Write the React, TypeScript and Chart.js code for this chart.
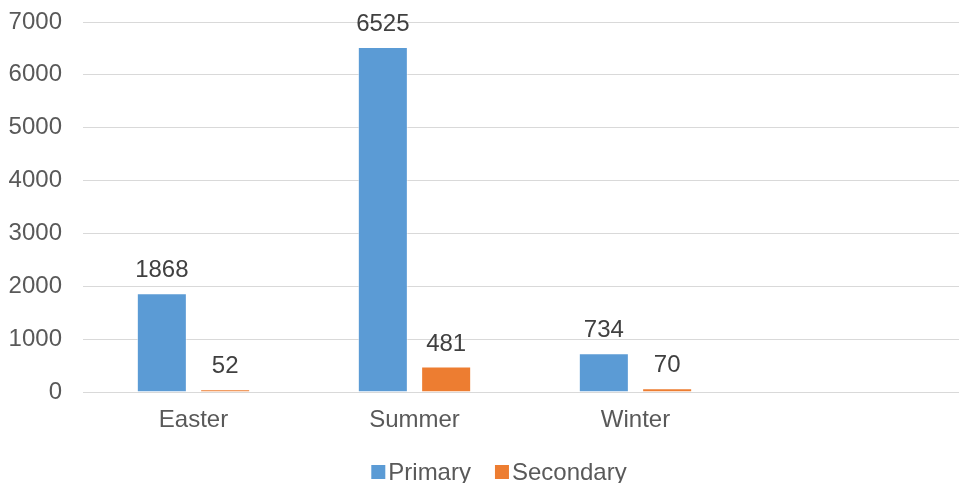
import React, { useEffect, useRef } from "react";
import { Chart, registerables } from "chart.js";

Chart.register(...registerables);

const categories = ["Easter", "Summer", "Winter", ""];
const primaryValues = [1868, 6525, 734];
const secondaryValues = [52, 481, 70];
const seriesNames = ["Primary", "Secondary"];
const yMax = 7000;
const yStep = 1000;

const FONT = "'Liberation Sans', Arial, sans-serif";
const BLUE = "#5B9BD5";
const ORANGE = "#ED7D31";

const dataLabelPlugin = {
  id: "dataLabels",
  afterDatasetsDraw(chart: any) {
    const ctx = chart.ctx;
    ctx.save();
    ctx.font = `24px ${FONT}`;
    ctx.fillStyle = "#404040";
    ctx.textAlign = "center";
    ctx.textBaseline = "alphabetic";
    chart.data.datasets.forEach((ds: any, i: number) => {
      const meta = chart.getDatasetMeta(i);
      meta.data.forEach((bar: any, j: number) => {
        const v = ds.data[j];
        if (v == null) return;
        ctx.fillText(String(v), bar.x, bar.y - 16);
      });
    });
    ctx.restore();
  },
};

const legendPlugin = {
  id: "customLegend",
  afterDraw(chart: any) {
    const ctx = chart.ctx;
    ctx.save();
    ctx.font = `24px ${FONT}`;
    ctx.textBaseline = "alphabetic";
    ctx.textAlign = "left";
    const box = 14;
    const gapBoxText = 3;
    const gapItems = 24;
    const widths = chart.data.datasets.map(
      (ds: any) => box + gapBoxText + ctx.measureText(ds.label).width
    );
    const total = widths.reduce((a: number, b: number) => a + b, 0) + gapItems * (widths.length - 1);
    let x = (chart.chartArea.left + chart.chartArea.right) / 2 - total / 2 - 26;
    const baseline = 480;
    chart.data.datasets.forEach((ds: any, i: number) => {
      ctx.fillStyle = ds.backgroundColor;
      ctx.fillRect(x, 465, box, box);
      ctx.fillStyle = "#595959";
      ctx.fillText(ds.label, x + box + gapBoxText, baseline);
      x += widths[i] + gapItems;
    });
    ctx.restore();
  },
};

export default function App() {
  const ref = useRef<HTMLCanvasElement | null>(null);

  useEffect(() => {
    document.body.style.margin = "0";
    document.body.style.overflow = "hidden";
    const canvas = ref.current!;
    const chart = new Chart(canvas, {
      type: "bar",
      data: {
        labels: categories,
        datasets: [
          {
            label: seriesNames[0],
            data: primaryValues,
            backgroundColor: BLUE,
            borderColor: "rgba(255,255,255,0.5)",
            borderWidth: 1,
            categoryPercentage: 0.573,
            barPercentage: 0.79,
          },
          {
            label: seriesNames[1],
            data: secondaryValues,
            backgroundColor: ORANGE,
            borderColor: "rgba(255,255,255,0.5)",
            borderWidth: 1,
            categoryPercentage: 0.573,
            barPercentage: 0.79,
          },
        ],
      },
      options: {
        responsive: false,
        animation: false,
        devicePixelRatio: 1,
        layout: { padding: { top: 22, right: 0, bottom: 0, left: 0 } },
        plugins: {
          legend: { display: false },
          tooltip: { enabled: false },
        },
        scales: {
          x: {
            grid: { display: false, drawTicks: false },
            border: { display: false },
            ticks: {
              color: "#595959",
              font: { family: FONT, size: 24 },
              padding: 14,
              maxRotation: 0,
              autoSkip: false,
            },
            afterFit(scale: any) {
              scale.height = 91;
              scale.paddingLeft = 0;
              scale.paddingRight = 0;
            },
          },
          y: {
            min: 0,
            max: yMax,
            grid: { color: "#d9d9d9", lineWidth: 1, drawTicks: false },
            border: { display: false },
            ticks: {
              stepSize: yStep,
              color: "#595959",
              font: { family: FONT, size: 24 },
              padding: 21,
              callback: (v: any) => String(v),
            },
            afterFit(scale: any) {
              scale.width = 83;
              scale.paddingTop = 0;
              scale.paddingBottom = 0;
            },
          },
        },
      },
      plugins: [dataLabelPlugin, legendPlugin],
    });
    return () => chart.destroy();
  }, []);

  return (
    <div style={{ width: 967, height: 483, overflow: "hidden" }}>
      <canvas ref={ref} width={967} height={483} style={{ display: "block" }} />
    </div>
  );
}
